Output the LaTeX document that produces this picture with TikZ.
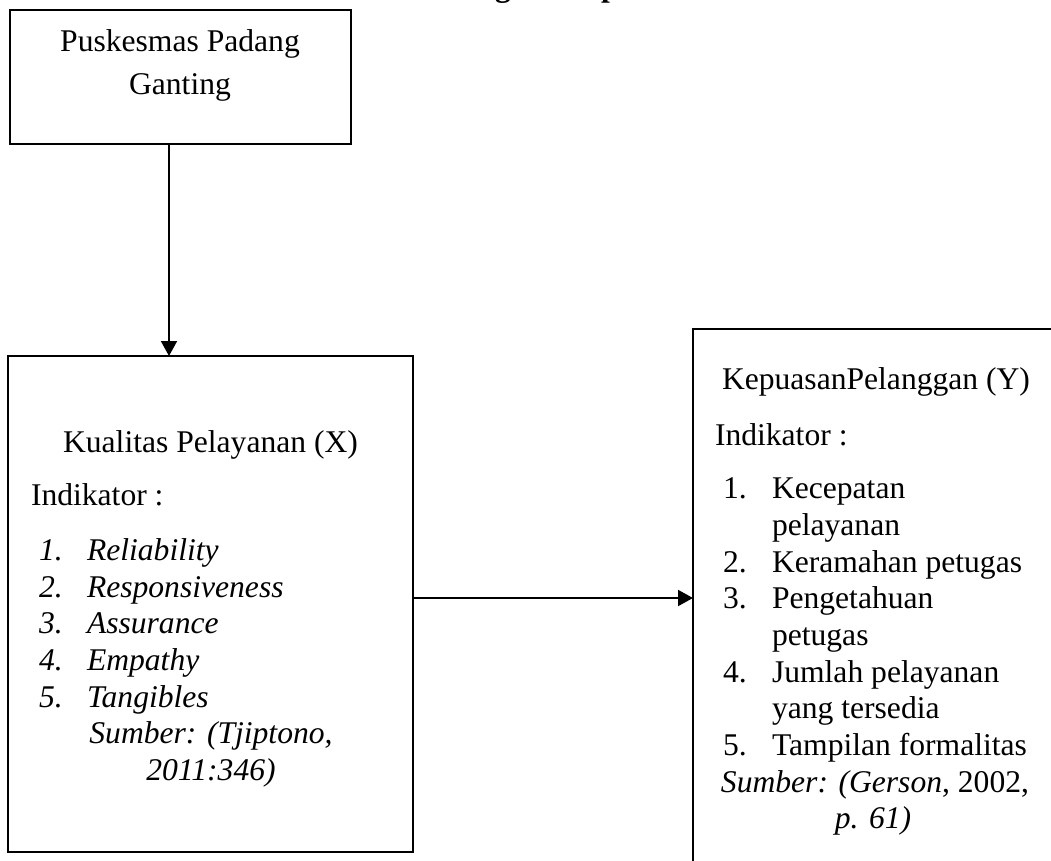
\documentclass[tikz,border=0pt]{standalone}
\usepackage{fontspec}
\setmainfont{Liberation Serif}
\usetikzlibrary{arrows.meta}
\begin{document}
\begin{tikzpicture}[x=1pt,y=-1pt,
  box/.style={draw,line width=2pt,inner sep=0pt,outer sep=0pt},
  txt/.style={inner sep=0pt,outer sep=0pt,font=\fontsize{31.6}{37}\selectfont},
  lft/.style={txt,anchor=base west},
  ctr/.style={txt,anchor=base},
  conn/.style={line width=2pt,-{Triangle[length=15pt,width=16pt]}}]
\useasboundingbox (0,0) rectangle (1051,861);
\clip (0,0) rectangle (1051,861);

% title (cut off at top)
\node[lft,font=\fontsize{31.6}{37}\selectfont\bfseries] (title) at (409,-3) {Kerangka Berpikir};

% boxes
\node[box,minimum width=341pt,minimum height=134pt] (p) at (180,77) {};
\node[box,minimum width=405pt,minimum height=496pt] (k) at (210.5,604) {};
\node[box,minimum width=407pt,minimum height=571pt] (c) at (896.5,614.5) {};

% box 1 text
\node[ctr] (p1) at (180,52) {Puskesmas Padang};
\node[ctr] (p2) at (180,95) {Ganting};

% box 2 text
\node[ctr] (k1) at (210.5,452) {Kualitas Pelayanan (X)};
\node[lft] (k2) at (31,505) {Indikator :};
\node[lft] (kn1) at (39,560) {\itshape 1.};
\node[lft] (kt1) at (87,560) {\itshape Reliability};
\node[lft] (kn2) at (39,597) {\itshape 2.};
\node[lft] (kt2) at (87,597) {\itshape Responsiveness};
\node[lft] (kn3) at (39,633) {\itshape 3.};
\node[lft] (kt3) at (87,633) {\itshape Assurance};
\node[lft] (kn4) at (39,670) {\itshape 4.};
\node[lft] (kt4) at (87,670) {\itshape Empathy};
\node[lft] (kn5) at (39,707) {\itshape 5.};
\node[lft] (kt5) at (87,707) {\itshape Tangibles};
\node[ctr] (ks1) at (211,743) {\itshape Sumber: (Tjiptono,};
\node[ctr] (ks2) at (211,780) {\itshape 2011:346)};

% box 3 text
\node[ctr] (c1) at (876,389) {KepuasanPelanggan (Y)};
\node[lft] (c2) at (715,445) {Indikator :};
\node[lft] (cn1) at (723,498) {1.};
\node[lft] (ct1) at (772,498) {Kecepatan};
\node[lft] (ct1b) at (772,535) {pelayanan};
\node[lft] (cn2) at (723,572) {2.};
\node[lft] (ct2) at (772,572) {Keramahan petugas};
\node[lft] (cn3) at (723,608) {3.};
\node[lft] (ct3) at (772,608) {Pengetahuan};
\node[lft] (ct3b) at (772,645) {petugas};
\node[lft] (cn4) at (723,682) {4.};
\node[lft] (ct4) at (772,682) {Jumlah pelayanan};
\node[lft] (ct4b) at (772,718) {yang tersedia};
\node[lft] (cn5) at (723,755) {5.};
\node[lft] (ct5) at (772,755) {Tampilan formalitas};
\node[ctr] (cs1) at (875,792) {\itshape Sumber: (Gerson\upshape, 2002,};
\node[ctr] (cs2) at (873,828) {\itshape p. 61)};

% connectors
\draw[conn] ([xshift=159.5pt]p.south west) -- ([xshift=159.5pt]p.south west |- k.north);
\draw[conn] ([yshift=6pt]k.east) -- ([yshift=6pt]k.east -| c.west);
\end{tikzpicture}
\end{document}
